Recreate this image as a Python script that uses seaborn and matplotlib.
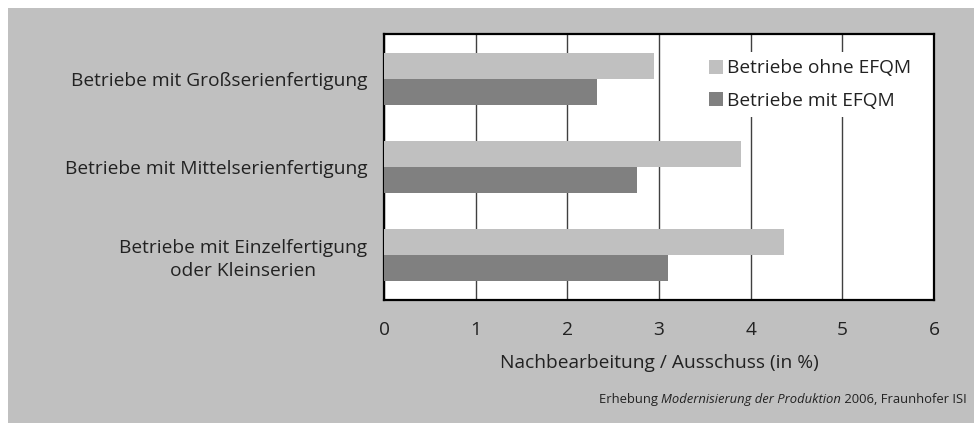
import pandas as pd
import matplotlib.pyplot as plt
import seaborn as sns
from matplotlib.patches import Rectangle

# Data
categories = [
    "Betriebe mit Großserienfertigung",
    "Betriebe mit Mittelserienfertigung",
    "Betriebe mit Einzelfertigung\noder Kleinserien",
]
series = ["Betriebe ohne EFQM", "Betriebe mit EFQM"]
ohne_efqm = [2.95, 3.89, 4.36]
mit_efqm = [2.32, 2.76, 3.10]
xticks = [0, 1, 2, 3, 4, 5, 6]

df = pd.DataFrame({
    "Betrieb": categories * 2,
    "Gruppe": [series[0]] * 3 + [series[1]] * 3,
    "Wert": ohne_efqm + mit_efqm,
})

sns.set_style("white")
plt.rcParams['font.family'] = ['Open Sans', 'DejaVu Sans']

bg = "#c0c0c0"
txt = "#222222"
fs = 13.8

fig = plt.figure(figsize=(9.74, 4.23), dpi=100)
fig.patch.set_facecolor("white")
fig.patches.append(Rectangle((8 / 974, 0), 1, 1 - 8 / 423, transform=fig.transFigure,
                             facecolor=bg, edgecolor="none", zorder=-10))

ax = fig.add_axes([384 / 974, 123 / 423, 550 / 974, 266 / 423])
ax.set_facecolor("white")

sns.barplot(data=df, y="Betrieb", x="Wert", hue="Gruppe", orient="h",
            palette=["#c0c0c0", "#808080"], width=0.59, gap=0,
            saturation=1, linewidth=0, ax=ax, zorder=3)

ax.set_xlim(0, 6)
ax.set_ylim(2.51, -0.51)
ax.set_xticks(xticks)
ax.set_xticklabels([str(t) for t in xticks], fontsize=fs, color=txt)
ax.xaxis.grid(True, color="#404040", linewidth=1.0, zorder=0)
ax.set_axisbelow(True)
ax.tick_params(axis="x", direction="out", length=6, width=1.5, color="#555555", pad=9)
ax.tick_params(axis="y", length=0, pad=12)
for lbl in ax.get_yticklabels():
    lbl.set_fontsize(fs)
    lbl.set_color(txt)
    lbl.set_multialignment("center")
    lbl.set_linespacing(1.35)

for sp in ax.spines.values():
    sp.set_visible(True)
    sp.set_color("black")
    sp.set_linewidth(1.6)

ax.set_ylabel("")
ax.set_xlabel("Nachbearbeitung / Ausschuss (in %)", fontsize=fs, color=txt, labelpad=11)

handles, labels = ax.get_legend_handles_labels()
leg = ax.legend(handles, labels, loc="upper right", bbox_to_anchor=(0.99, 0.97),
                frameon=True, fontsize=fs, handlelength=0.75, handleheight=0.75,
                handletextpad=0.2, labelspacing=0.75, borderpad=0.4)
leg.get_frame().set_facecolor("white")
leg.get_frame().set_edgecolor("none")
leg.get_frame().set_alpha(1)
leg.set_zorder(5)
for t in leg.get_texts():
    t.set_color(txt)

# Source note with italic middle part
fs_src = 9.4
t_end = fig.text(967 / 974, 1 - 403 / 423, " 2006, Fraunhofer ISI", ha="right",
                 va="baseline", fontsize=fs_src, color=txt)
t_mid = ax.annotate("Modernisierung der Produktion", xy=(0, 0), xycoords=t_end,
                    ha="right", va="bottom", fontsize=fs_src, style="italic",
                    color=txt, annotation_clip=False)
ax.annotate("Erhebung ", xy=(0, 0), xycoords=t_mid, ha="right", va="bottom",
            fontsize=fs_src, color=txt, annotation_clip=False)

fig.savefig("out.png", dpi=100, facecolor=fig.get_facecolor())
